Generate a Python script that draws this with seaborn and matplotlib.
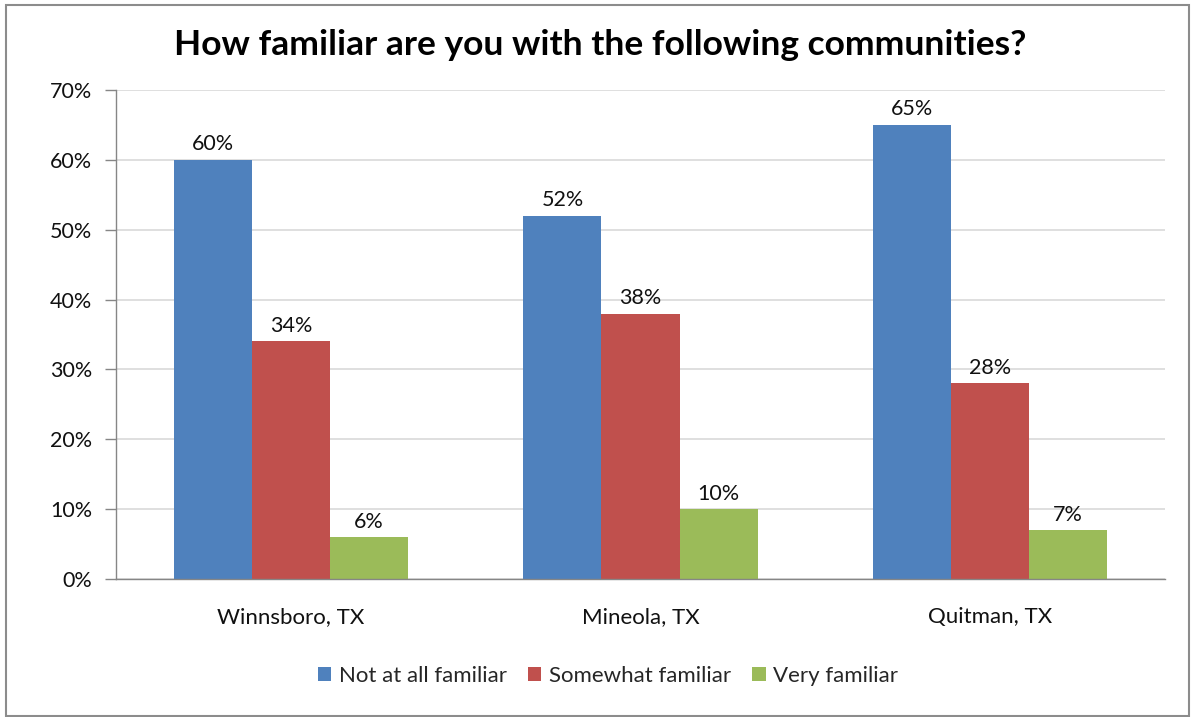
import matplotlib
matplotlib.use("Agg")
import matplotlib.pyplot as plt
import matplotlib.patches as mpatches
import seaborn as sns
import pandas as pd

communities = ["Winnsboro, TX", "Mineola, TX", "Quitman, TX"]
levels = ["Not at all familiar", "Somewhat familiar", "Very familiar"]
not_at_all = [60, 52, 65]
somewhat = [34, 38, 28]
very = [6, 10, 7]
yticks = [0, 10, 20, 30, 40, 50, 60, 70]
palette = ["#4F81BD", "#C0504D", "#9BBB59"]

rows = []
for series, vals in zip(levels, [not_at_all, somewhat, very]):
    for c, v in zip(communities, vals):
        rows.append({"Community": c, "Familiarity": series, "Percent": v})
df = pd.DataFrame(rows)

sns.set_theme(style="white")
plt.rcParams["font.family"] = ["Lato", "DejaVu Sans"]

fig = plt.figure(figsize=(11.93, 7.17), dpi=100)
ax = fig.add_axes([116 / 1193, 1 - 579 / 717, (1165 - 116) / 1193, (579 - 90) / 717])

sns.barplot(data=df, x="Community", y="Percent", hue="Familiarity",
            hue_order=levels, order=communities, palette=palette,
            width=0.67, saturation=1, ax=ax, legend=False,
            edgecolor="none", linewidth=0)

for cont in ax.containers:
    ax.bar_label(cont, labels=[f"{int(round(b.get_height()))}%" for b in cont],
                 padding=4, fontsize=15.5, color="#111111")

ax.set_ylim(0, 70)
ax.set_xlim(-0.5, 2.5)
ax.set_yticks(yticks)
ax.set_yticklabels([f"{t}%" for t in yticks], fontsize=15.5, color="#111111")
ax.set_xlabel("")
ax.set_ylabel("")
ax.tick_params(axis="x", which="major", length=0, labelsize=16, pad=20,
               labelcolor="#111111")
ax.set_xticks([-0.5, 0.5, 1.5, 2.5], minor=True)
ax.tick_params(axis="x", which="minor", length=6, color="#868686", width=1)
ax.tick_params(axis="y", which="major", length=8, color="#868686", width=1,
               left=True, pad=9)
ax.yaxis.grid(True, color="#d9d9d9", linewidth=1.2)
ax.set_axisbelow(True)
for side in ["top", "right"]:
    ax.spines[side].set_visible(False)
for side in ["left", "bottom"]:
    ax.spines[side].set_color("#868686")
    ax.spines[side].set_linewidth(1)

fig.text(600 / 1193, 1 - 45 / 717, "How familiar are you with the following communities?",
         ha="center", va="center", fontsize=25.5, fontweight="bold", color="#000000")

handles = [mpatches.Patch(facecolor=c, edgecolor="none") for c in palette]
fig.legend(handles, levels, loc="center", bbox_to_anchor=(608 / 1193, 1 - 676 / 717),
           ncol=3, frameon=False, fontsize=16, handlelength=0.6, handleheight=0.6,
           handletextpad=0.35, columnspacing=0.95)

border = mpatches.Rectangle((6 / 1193, 1 / 717), 1183 / 1193, 711 / 717,
                            transform=fig.transFigure, fill=False,
                            edgecolor="#8c8c8c", linewidth=1.5)
fig.patches.append(border)

fig.savefig("out.png", dpi=100)
